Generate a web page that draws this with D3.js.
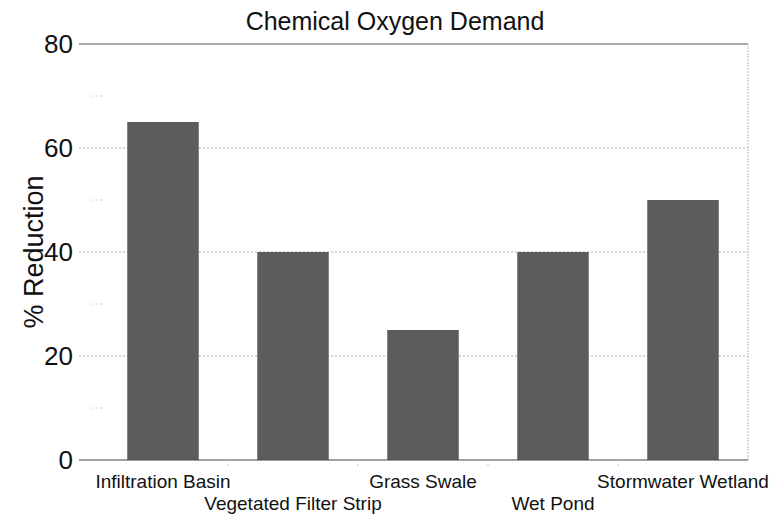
<!DOCTYPE html>
<html><head><meta charset="utf-8">
<script src="https://cdn.jsdelivr.net/npm/d3@7"></script>
<style>body{margin:0;background:#fff}svg{display:block}text{font-family:"Liberation Sans",Arial,sans-serif;fill:#111}</style>
</head><body><svg id="c" width="782" height="517"></svg>
<script>
const categories = ["Infiltration Basin","Vegetated Filter Strip","Grass Swale","Wet Pond","Stormwater Wetland"];
const values = [65, 40, 25, 40, 50];
const yTicks = [0, 20, 40, 60, 80];
const minorTicks = [10, 30, 50, 70];
const title = "Chemical Oxygen Demand";
const yLabel = "% Reduction";

(function () {
const svg = d3.select("#c");
const pLeft = 79, pRight = 748, pTop = 44, pBottom = 460;
const x = d3.scaleBand().domain(categories).range([98, 748]).paddingInner(0.45).paddingOuter(0.225);
const y = d3.scaleLinear().domain([0, 80]).range([pBottom, pTop]);

// gridlines
svg.append("g").selectAll("line").data(yTicks.filter(d => d > 0 && d < 80)).join("line")
  .attr("x1", pLeft).attr("x2", pRight).attr("y1", d => y(d)).attr("y2", d => y(d))
  .attr("stroke", "#aaa").attr("stroke-width", 1).attr("stroke-dasharray", "2,2");
svg.append("g").selectAll("line").data(minorTicks).join("line")
  .attr("x1", 92).attr("x2", 104).attr("y1", d => y(d)).attr("y2", d => y(d))
  .attr("stroke", "#ccc").attr("stroke-width", 1).attr("stroke-dasharray", "2,2");
// top border
svg.append("line").attr("x1", pLeft).attr("x2", pRight).attr("y1", y(80)).attr("y2", y(80))
  .attr("stroke", "#555").attr("stroke-width", 1.2);
// right border
svg.append("line").attr("x1", pRight).attr("x2", pRight).attr("y1", y(80)).attr("y2", y(0))
  .attr("stroke", "#bbb").attr("stroke-width", 1).attr("stroke-dasharray", "2,1");

// bars
svg.append("g").selectAll("rect").data(values).join("rect")
  .attr("x", (d, i) => x(categories[i])).attr("width", x.bandwidth())
  .attr("y", d => y(d)).attr("height", d => y(0) - y(d))
  .attr("fill", "#5c5c5c");

// bottom axis
svg.append("line").attr("x1", pLeft).attr("x2", pRight).attr("y1", y(0)).attr("y2", y(0))
  .attr("stroke", "#444").attr("stroke-width", 1.2);
// band ticks
svg.append("g").selectAll("line").data(categories.slice(1)).join("line")
  .attr("x1", d => x(d) - x.step() * x.paddingInner() / 2).attr("x2", d => x(d) - x.step() * x.paddingInner() / 2)
  .attr("y1", y(0)).attr("y2", y(0) + 6).attr("stroke", "#ccc").attr("stroke-dasharray", "2,2");

// y tick labels
svg.append("g").selectAll("text").data(yTicks).join("text")
  .attr("x", 73).attr("y", d => y(d)).attr("dy", "0.36em").attr("text-anchor", "end")
  .attr("font-size", 26).text(d => d);

// x labels staggered
svg.append("g").selectAll("text").data(categories).join("text")
  .attr("x", d => x(d) + x.bandwidth() / 2)
  .attr("y", (d, i) => i % 2 === 0 ? 488 : 510)
  .attr("text-anchor", "middle").attr("font-size", 19).text(d => d);

// title
svg.append("text").attr("x", 395).attr("y", 30).attr("text-anchor", "middle")
  .attr("font-size", 25).text(title);
// y label
svg.append("text").attr("transform", "translate(43,252) rotate(-90)").attr("text-anchor", "middle")
  .attr("font-size", 27).text(yLabel);
})();
</script></body></html>
